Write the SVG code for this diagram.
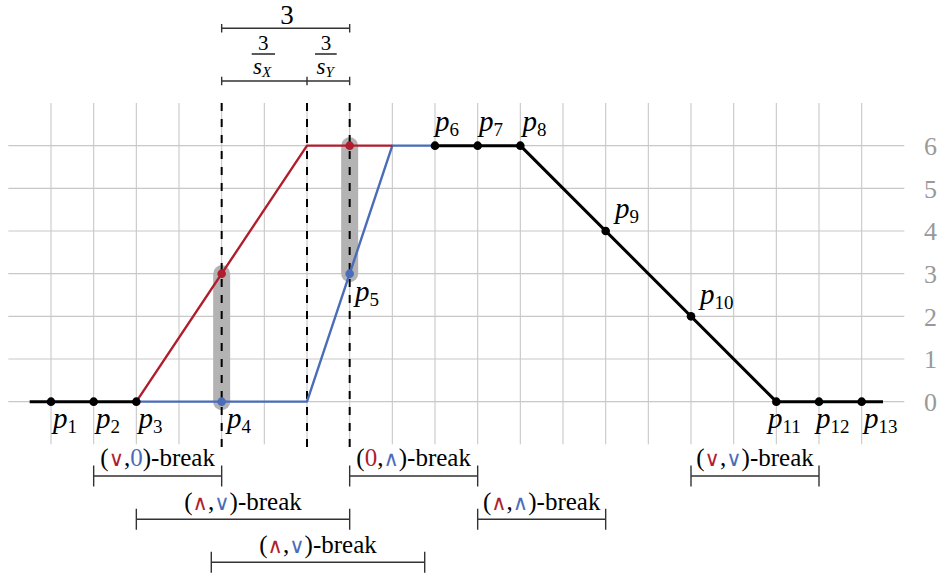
<svg xmlns="http://www.w3.org/2000/svg" width="943" height="579" viewBox="0 0 943 579">
<style>
  .grid line { stroke: #c8c8c8; stroke-width: 1.1; }
  .hl { stroke: #b3b3b3; stroke-width: 17; stroke-linecap: round; fill: none; }
  .dash { stroke: #000; stroke-width: 2; stroke-dasharray: 8 8; }
  .blk { stroke: #000; stroke-width: 3; fill: none; stroke-linejoin: round; }
  .red { stroke: #b01e2e; stroke-width: 2.4; fill: none; stroke-linejoin: round; }
  .blue { stroke: #4a6cba; stroke-width: 2.4; fill: none; stroke-linejoin: round; }
  .dim { stroke: #333; stroke-width: 1.4; fill: none; }
  .pt { font-size: 29px; font-style: italic; fill: #000; }
  .sub { font-style: normal; font-size: 19px; }
  .ax { font-size: 26px; fill: #999; }
  .lab { font-size: 25px; fill: #000; text-anchor: middle; }
  .op { font-size: 21px; }
  .r { fill: #b01e2e; }
  .b { fill: #4a6cba; }
  .num { font-size: 21px; fill: #000; text-anchor: middle; }
  .top { font-size: 27px; fill: #000; text-anchor: middle; }
  .den { font-size: 23px; font-style: italic; fill: #000; }
</style>

<g id="grid" class="grid">
  <line x1="51" y1="103" x2="51" y2="444.3"/>
  <line x1="93.67" y1="103" x2="93.67" y2="444.3"/>
  <line x1="136.33" y1="103" x2="136.33" y2="444.3"/>
  <line x1="179" y1="103" x2="179" y2="444.3"/>
  <line x1="221.67" y1="103" x2="221.67" y2="444.3"/>
  <line x1="264.33" y1="103" x2="264.33" y2="444.3"/>
  <line x1="307" y1="103" x2="307" y2="444.3"/>
  <line x1="349.67" y1="103" x2="349.67" y2="444.3"/>
  <line x1="392.33" y1="103" x2="392.33" y2="444.3"/>
  <line x1="435" y1="103" x2="435" y2="444.3"/>
  <line x1="477.67" y1="103" x2="477.67" y2="444.3"/>
  <line x1="520.33" y1="103" x2="520.33" y2="444.3"/>
  <line x1="563" y1="103" x2="563" y2="444.3"/>
  <line x1="605.67" y1="103" x2="605.67" y2="444.3"/>
  <line x1="648.33" y1="103" x2="648.33" y2="444.3"/>
  <line x1="691" y1="103" x2="691" y2="444.3"/>
  <line x1="733.67" y1="103" x2="733.67" y2="444.3"/>
  <line x1="776.33" y1="103" x2="776.33" y2="444.3"/>
  <line x1="819" y1="103" x2="819" y2="444.3"/>
  <line x1="861.67" y1="103" x2="861.67" y2="444.3"/>
  <line x1="8.33" y1="401.67" x2="904.33" y2="401.67"/>
  <line x1="8.33" y1="359" x2="904.33" y2="359"/>
  <line x1="8.33" y1="316.33" x2="904.33" y2="316.33"/>
  <line x1="8.33" y1="273.67" x2="904.33" y2="273.67"/>
  <line x1="8.33" y1="231" x2="904.33" y2="231"/>
  <line x1="8.33" y1="188.33" x2="904.33" y2="188.33"/>
  <line x1="8.33" y1="145.67" x2="904.33" y2="145.67"/>
</g>

<g id="axis-labels" font-family="'Liberation Serif', serif">
  <text class="ax" x="924" y="411">0</text>
  <text class="ax" x="924" y="368.3">1</text>
  <text class="ax" x="924" y="325.7">2</text>
  <text class="ax" x="924" y="283">3</text>
  <text class="ax" x="924" y="240.3">4</text>
  <text class="ax" x="924" y="197.7">5</text>
  <text class="ax" x="924" y="155">6</text>
</g>

<g id="highlights">
  <line class="hl" x1="221.67" y1="401.67" x2="221.67" y2="273.67"/>
  <line class="hl" x1="349.67" y1="273.67" x2="349.67" y2="145.67"/>
</g>

<g id="dashed-lines">
  <line class="dash" x1="221.67" y1="103" x2="221.67" y2="447"/>
  <line class="dash" x1="307" y1="103" x2="307" y2="447"/>
  <line class="dash" x1="349.67" y1="103" x2="349.67" y2="447"/>
</g>

<g id="connectors">
  <polyline class="blue" points="136.33,401.67 307,401.67 392.33,145.67 435,145.67"/>
  <polyline class="red" points="136.33,401.67 307,145.67 392.33,145.67"/>
  <polyline class="blk" points="29.67,401.67 136.33,401.67"/>
  <polyline class="blk" points="435,145.67 520.33,145.67 776.33,401.67 883,401.67"/>
</g>

<g id="dots">
  <circle cx="221.67" cy="273.67" r="4.3" fill="#b01e2e"/>
  <circle cx="349.67" cy="145.67" r="4.3" fill="#b01e2e"/>
  <circle cx="221.67" cy="401.67" r="4.3" fill="#4a6cba"/>
  <circle cx="349.67" cy="273.67" r="4.3" fill="#4a6cba"/>
</g>

<g id="points" font-family="'Liberation Serif', serif">
<g id="p1"><circle cx="51" cy="401.67" r="4.3"/><text class="pt" x="53" y="428">p<tspan class="sub" dy="5">1</tspan></text></g>
<g id="p2"><circle cx="93.67" cy="401.67" r="4.3"/><text class="pt" x="96" y="428">p<tspan class="sub" dy="5">2</tspan></text></g>
<g id="p3"><circle cx="136.33" cy="401.67" r="4.3"/><text class="pt" x="138.5" y="428">p<tspan class="sub" dy="5">3</tspan></text></g>
<g id="p4"><text class="pt" x="227" y="428">p<tspan class="sub" dy="5">4</tspan></text></g>
<g id="p5"><text class="pt" x="355" y="301">p<tspan class="sub" dy="5">5</tspan></text></g>
<g id="p6"><circle cx="435" cy="145.67" r="4.3"/><text class="pt" x="435" y="131">p<tspan class="sub" dy="5">6</tspan></text></g>
<g id="p7"><circle cx="477.67" cy="145.67" r="4.3"/><text class="pt" x="479" y="131">p<tspan class="sub" dy="5">7</tspan></text></g>
<g id="p8"><circle cx="520.33" cy="145.67" r="4.3"/><text class="pt" x="522.5" y="131">p<tspan class="sub" dy="5">8</tspan></text></g>
<g id="p9"><circle cx="605.67" cy="231" r="4.3"/><text class="pt" x="615" y="218">p<tspan class="sub" dy="5">9</tspan></text></g>
<g id="p10"><circle cx="691" cy="316.33" r="4.3"/><text class="pt" x="700" y="304">p<tspan class="sub" dy="5">10</tspan></text></g>
<g id="p11"><circle cx="776.33" cy="401.67" r="4.3"/><text class="pt" x="768" y="428">p<tspan class="sub" dy="5">11</tspan></text></g>
<g id="p12"><circle cx="819" cy="401.67" r="4.3"/><text class="pt" x="816" y="428">p<tspan class="sub" dy="5">12</tspan></text></g>
<g id="p13"><circle cx="861.67" cy="401.67" r="4.3"/><text class="pt" x="864" y="428">p<tspan class="sub" dy="5">13</tspan></text></g>
</g>

<g id="top-dimension" font-family="'Liberation Serif', serif">
  <text class="top" x="287" y="24">3</text>
  <path class="dim" d="M221.67,28.3 H349.67 M221.67,24 V32.6 M349.67,24 V32.6"/>
  <text class="num" x="263.3" y="50">3</text>
  <line x1="251.7" y1="54" x2="275" y2="54" stroke="#000" stroke-width="1.3"/>
  <text class="den" x="253" y="74">s<tspan font-size="15" dy="3">X</tspan></text>
  <text class="num" x="326" y="50">3</text>
  <line x1="315" y1="54" x2="336.7" y2="54" stroke="#000" stroke-width="1.3"/>
  <text class="den" x="316.5" y="74">s<tspan font-size="15" dy="3">Y</tspan></text>
  <path class="dim" d="M221.67,81 H349.67 M221.67,76.7 V85.3 M307,76.7 V85.3 M349.67,76.7 V85.3"/>
</g>

<g id="breaks" font-family="'Liberation Serif', 'DejaVu Serif', serif">
<g id="break1">
  <path class="dim" d="M93.67,476 H221.67 M93.67,465.5 V486.5 M221.67,465.5 V486.5"/>
  <text class="lab" x="157.67" y="466">(<tspan class="op r">∨</tspan>,<tspan class="b">0</tspan>)-break</text>
</g>
<g id="break2">
  <path class="dim" d="M349.67,476 H477.67 M349.67,465.5 V486.5 M477.67,465.5 V486.5"/>
  <text class="lab" x="413.67" y="466">(<tspan class="r">0</tspan>,<tspan class="op b">∧</tspan>)-break</text>
</g>
<g id="break3">
  <path class="dim" d="M136.33,519.3 H349.67 M136.33,508.8 V529.8 M349.67,508.8 V529.8"/>
  <text class="lab" x="243" y="509.5">(<tspan class="op r">∧</tspan>,<tspan class="op b">∨</tspan>)-break</text>
</g>
<g id="break4">
  <path class="dim" d="M211.3,562.3 H424.7 M211.3,551.8 V572.8 M424.7,551.8 V572.8"/>
  <text class="lab" x="318" y="552.5">(<tspan class="op r">∧</tspan>,<tspan class="op b">∨</tspan>)-break</text>
</g>
<g id="break5">
  <path class="dim" d="M477.67,519.3 H605.67 M477.67,508.8 V529.8 M605.67,508.8 V529.8"/>
  <text class="lab" x="541.67" y="509.5">(<tspan class="op r">∧</tspan>,<tspan class="op b">∧</tspan>)-break</text>
</g>
<g id="break6">
  <path class="dim" d="M691,476 H819 M691,465.5 V486.5 M819,465.5 V486.5"/>
  <text class="lab" x="755" y="466">(<tspan class="op r">∨</tspan>,<tspan class="op b">∨</tspan>)-break</text>
</g>
</g>
</svg>
